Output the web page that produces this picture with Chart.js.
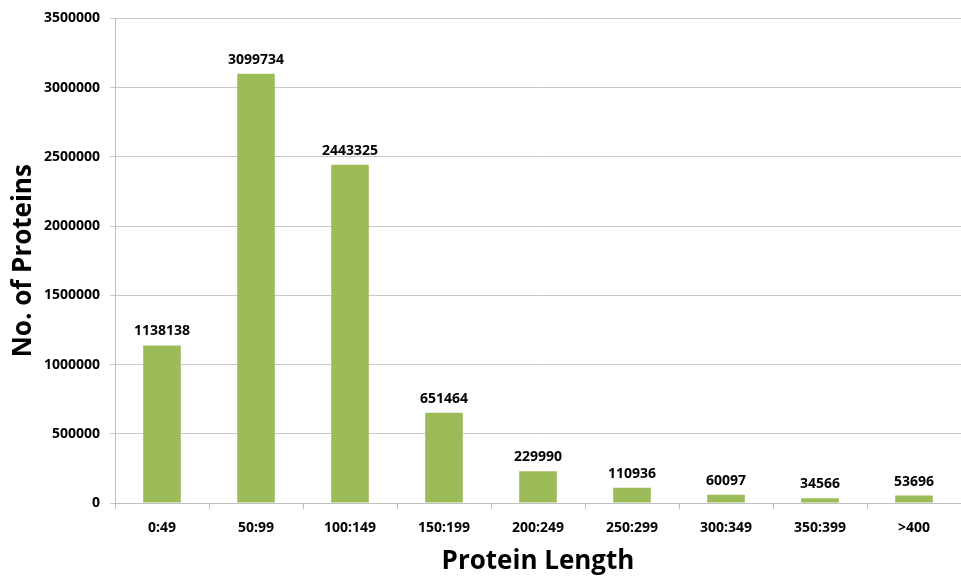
<!DOCTYPE html>
<html>
<head>
<meta charset="utf-8">
<script src="https://cdn.jsdelivr.net/npm/chart.js@4"></script>
<style>
html,body{margin:0;padding:0;background:#fff;}
#wrap{width:961px;height:577px;position:relative;}
</style>
</head>
<body>
<div id="wrap"><canvas id="c" width="961" height="577"></canvas></div>
<script>
const categories = ["0:49","50:99","100:149","150:199","200:249","250:299","300:349","350:399",">400"];
const proteinCounts = [1138138,3099734,2443325,651464,229990,110936,60097,34566,53696];
const yTicks = [0,500000,1000000,1500000,2000000,2500000,3000000,3500000];

const FONT = "'Open Sans', 'Liberation Sans', sans-serif";

const valueLabels = {
  id: 'valueLabels',
  afterDatasetsDraw(chart) {
    const ctx = chart.ctx;
    const meta = chart.getDatasetMeta(0);
    ctx.save();
    ctx.font = "bold 14px " + FONT;
    ctx.fillStyle = "#000";
    ctx.textAlign = "center";
    ctx.textBaseline = "bottom";
    meta.data.forEach((bar, i) => {
      ctx.fillText(String(chart.data.datasets[0].data[i]), bar.x, bar.y - 7);
    });
    ctx.restore();
  }
};

new Chart(document.getElementById('c'), {
  type: 'bar',
  data: {
    labels: categories,
    datasets: [{
      data: proteinCounts,
      backgroundColor: '#9BBB59',
      borderWidth: 0,
      categoryPercentage: 1.0,
      barPercentage: 0.4
    }]
  },
  options: {
    responsive: false,
    animation: false,
    devicePixelRatio: 1,
    layout: { padding: { top: 11, right: 0, left: 8, bottom: 0 } },
    plugins: { legend: { display: false }, tooltip: { enabled: false } },
    scales: {
      x: {
        afterFit(axis) { axis.height = 74; },
        grid: { offset: true, drawOnChartArea: false, drawTicks: true, tickLength: 6, color: '#bfbfbf' },
        border: { color: '#bfbfbf' },
        ticks: { color: '#000', font: { family: FONT, size: 14, weight: 'bold' }, padding: 11 },
        title: { display: true, text: 'Protein Length', color: '#000', font: { family: FONT, size: 26, weight: 'bold' }, padding: { top: 4, bottom: 0 } }
      },
      y: {
        min: 0, max: 3500000,
        afterFit(axis) { axis.width = 107; },
        afterBuildTicks(axis) { axis.ticks = yTicks.map(v => ({ value: v })); },
        grid: { color: '#c8c8c8', tickLength: 5 },
        border: { color: '#bfbfbf' },
        ticks: { color: '#000', font: { family: FONT, size: 14, weight: 'bold' }, padding: 10, callback: v => String(v) },
        title: { display: true, text: 'No. of Proteins', color: '#000', font: { family: FONT, size: 26, weight: 'bold' }, padding: { top: 0, bottom: 6 } }
      }
    }
  },
  plugins: [valueLabels]
});
</script>
</body>
</html>
